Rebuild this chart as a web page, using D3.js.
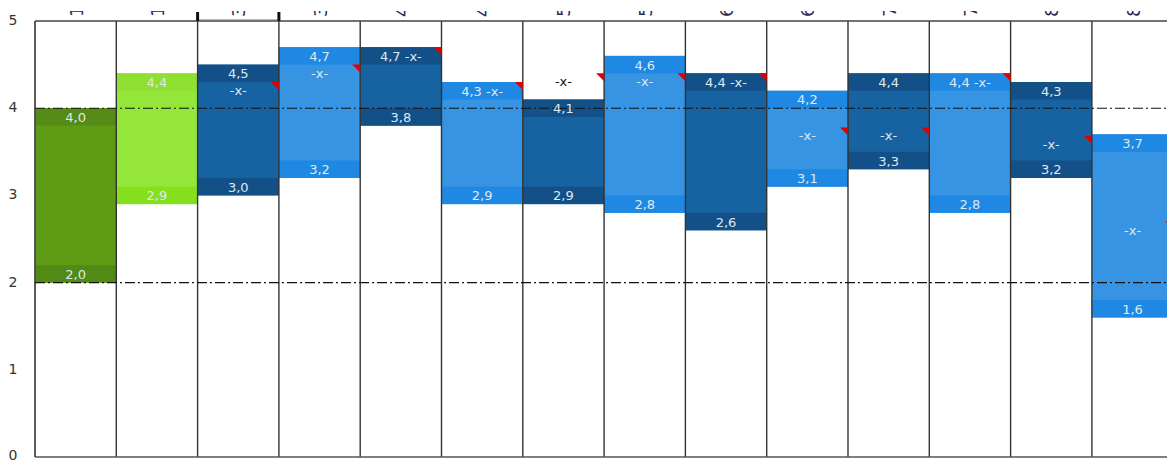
<!DOCTYPE html>
<html><head><meta charset="utf-8">
<script src="https://cdn.jsdelivr.net/npm/d3@7"></script>
<style>body{margin:0;background:#fff;overflow:hidden}svg{display:block}</style>
</head><body><svg id="c" width="1167" height="462"></svg>
<script>
const categories = ["1","1","3","3","4","4","5","5","6","6","7","7","8","8"];
const lows  = [2.0,2.9,3.0,3.2,3.8,2.9,2.9,2.8,2.6,3.1,3.3,2.8,3.2,1.6];
const highs = [4.0,4.4,4.5,4.7,4.7,4.3,4.1,4.6,4.4,4.2,4.4,4.4,4.3,3.7];
const means = [null,null,4.3,4.5,4.7,4.3,4.4,4.4,4.4,3.78,3.78,4.4,3.68,2.7];
const styles = ["g1","g2","b1","b2","b1","b2","b1","b2","b1","b2","b1","b2","b1","b2"];
const refLines = [4,2];
const yTicks = [0,1,2,3,4,5];

const palette = {
  g1:{main:"#5f9c15", top:"#558c17", bot:"#528a16"},
  g2:{main:"#95e63a", top:"#8fe031", bot:"#86df1c"},
  b1:{main:"#1762a0", top:"#135088", bot:"#135088"},
  b2:{main:"#3794e2", top:"#1f88e3", bot:"#1f88e3"}
};

const svg = d3.select("#c");
const L = 35, T = 21, B = 457, colW = 81.3;
const x = d3.scaleBand().domain(d3.range(categories.length)).range([L, L + colW*categories.length]).padding(0);
const y = d3.scaleLinear().domain([0,5]).range([B, T]);
const fmt = v => d3.format(".1f")(v).replace(".", ",");
const strip = 0.2;

// bars
const g = svg.append("g");
categories.forEach((c,i) => {
  const p = palette[styles[i]];
  const x0 = x(i), w = x.bandwidth();
  g.append("rect").attr("x",x0).attr("width",w).attr("y",y(highs[i])).attr("height",y(lows[i])-y(highs[i])).attr("fill",p.main);
  g.append("rect").attr("x",x0).attr("width",w).attr("y",y(highs[i])).attr("height",y(highs[i]-strip)-y(highs[i])).attr("fill",p.top);
  g.append("rect").attr("x",x0).attr("width",w).attr("y",y(lows[i]+strip)).attr("height",y(lows[i])-y(lows[i]+strip)).attr("fill",p.bot);
});

// grid verticals and frame
const xs = d3.range(categories.length+1).map(i => L + i*colW);
svg.append("g").selectAll("line").data(xs).join("line")
  .attr("x1",d=>d).attr("x2",d=>d).attr("y1",T).attr("y2",B)
  .attr("stroke","#333").attr("stroke-width",1.4);
svg.append("line").attr("x1",L).attr("x2",1167).attr("y1",T).attr("y2",T).attr("stroke","#444").attr("stroke-width",1.3);
svg.append("line").attr("x1",L).attr("x2",1167).attr("y1",B).attr("y2",B).attr("stroke","#555").attr("stroke-width",1.5);
svg.append("line").attr("x1",L).attr("x2",L).attr("y1",T).attr("y2",B).attr("stroke","#555").attr("stroke-width",1.5);

// reference lines
svg.append("g").selectAll("line").data(refLines).join("line")
  .attr("x1",L).attr("x2",1167).attr("y1",d=>y(d)).attr("y2",d=>y(d))
  .attr("stroke","#111").attr("stroke-width",1.1).attr("stroke-dasharray","10,3,2,3");

// labels
const lab = svg.append("g").attr("font-family","DejaVu Sans, Verdana, sans-serif").attr("font-size",13).attr("text-anchor","middle");
categories.forEach((c,i) => {
  const cx = x(i) + x.bandwidth()/2;
  const xr = x(i) + x.bandwidth();
  const col = "#dfe8f0";
  const topY = (y(highs[i]) + y(highs[i]-strip))/2 + 5;
  const botY = (y(lows[i]) + y(lows[i]+strip))/2 + 5;
  const m = means[i];
  const combined = m !== null && fmt(m) === fmt(highs[i]);
  lab.append("text").attr("x",cx).attr("y",topY).attr("fill",col).text(combined ? fmt(highs[i]) + " -x-" : fmt(highs[i]));
  lab.append("text").attr("x",cx).attr("y",botY).attr("fill",col).text(fmt(lows[i]));
  if (m !== null) {
    if (!combined) {
      const outside = m > highs[i];
      lab.append("text").attr("x",cx).attr("y",y(m)+13).attr("fill",outside?"#111":col).text("-x-");
    }
    svg.append("path").attr("d",`M${xr-8},${y(m)}L${xr},${y(m)}L${xr},${y(m)+8}Z`).attr("fill","#e00000");
  }
});

// y axis labels
svg.append("g").attr("font-family","DejaVu Sans, Verdana, sans-serif").attr("font-size",14).attr("fill","#333")
  .selectAll("text").data(yTicks).join("text")
  .attr("x",13).attr("y",d=>Math.min(y(d)+4, 460)).attr("text-anchor","middle").text(d=>d);

// top category labels (rotated, clipped)
svg.append("clipPath").attr("id","tc").append("rect").attr("x",L).attr("y",11).attr("width",1167-L).attr("height",7);
svg.append("g").attr("clip-path","url(#tc)").attr("font-family","DejaVu Sans, Verdana, sans-serif").attr("font-size",18).attr("fill","#2a2a55")
  .selectAll("text").data(categories).join("text")
  .attr("transform",(d,i)=>`translate(${x(i)+x.bandwidth()/2+7},17) rotate(-90)`)
  .text(d=>d);

// selection marker on third column header
const s0 = x(2), s1 = x(2)+x.bandwidth();
svg.append("line").attr("x1",s0).attr("x2",s1).attr("y1",T-1).attr("y2",T-1).attr("stroke","#777").attr("stroke-width",1);
[s0,s1].forEach(sx => {
  svg.append("rect").attr("x",sx-1.5).attr("y",12).attr("width",3).attr("height",9).attr("fill","#111");
});
</script></body></html>
